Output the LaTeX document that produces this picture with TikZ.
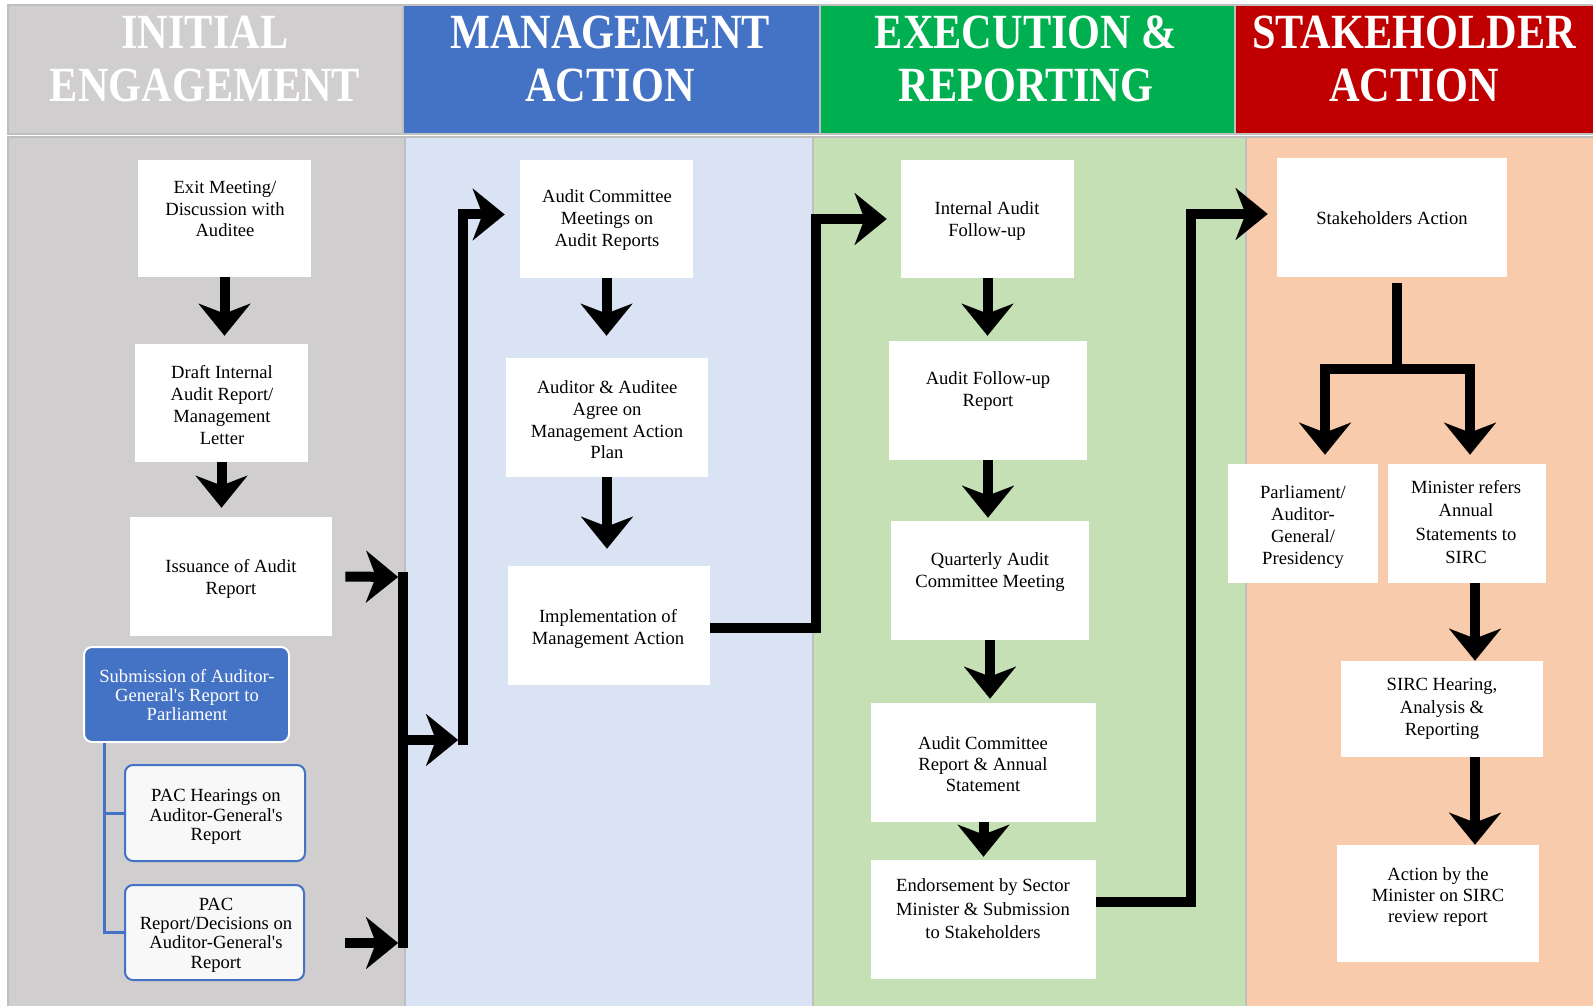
\documentclass[tikz,border=0pt]{standalone}
\usepackage{fontspec}
\setmainfont{Liberation Serif}
\newfontfamily\bodyfont{Liberation Serif}
\newfontfamily\hdfont[FakeStretch=0.86]{Liberation Serif}
\usetikzlibrary{arrows.meta,fit}
\definecolor{hgray}{HTML}{D0CECE}
\definecolor{hblue}{HTML}{4472C4}
\definecolor{hgreen}{HTML}{00B050}
\definecolor{hred}{HTML}{C00000}
\definecolor{bblue}{HTML}{DAE3F3}
\definecolor{bgreen}{HTML}{C5E0B4}
\definecolor{bpeach}{HTML}{F8CBAD}
\definecolor{edge}{HTML}{BFBFBF}
\definecolor{pacfill}{HTML}{F8F8F8}
\begin{document}
\begin{tikzpicture}[x=0.5pt,y=-0.5pt,
  cell/.style={draw=edge, line width=1pt},
  hdr/.style={align=center, inner sep=0pt, text=white, font=\hdfont\bfseries\fontsize{24.6}{26.4}\selectfont},
  box/.style={fill=white, inner sep=0pt},
  rbox/.style={fill=hblue, draw=white, line width=1pt, rounded corners=4pt, inner sep=0pt},
  pbox/.style={fill=pacfill, draw=hblue, line width=1pt, rounded corners=4pt, inner sep=0pt},
  txt/.style={align=center, inner sep=0pt, font=\bodyfont\fontsize{9.3}{#1}\selectfont},
  txt/.default=10.85pt,
  conn/.style={line width=5pt},
  arr/.style={line width=5pt, -{Stealth[length=16pt,width=26pt,inset=5pt,line width=0.01pt]}},
  bline/.style={draw=hblue, line width=1.5pt},
]
\useasboundingbox (0,0) rectangle (1593,1005);
\fill[white] (0,0) rectangle (1593,1005);
% header cells
\filldraw[cell, fill=hgray]  (8,5)    rectangle (403,134);
\filldraw[cell, fill=hblue]  (403,5)  rectangle (820,134);
\filldraw[cell, fill=hgreen] (820,5)  rectangle (1235,134);
\filldraw[cell, fill=hred]   (1235,5) rectangle (1597,134);
% body cells
\filldraw[cell, fill=hgray]  (8,137)    rectangle (405,1009);
\filldraw[cell, fill=bblue]  (405,137)  rectangle (813,1009);
\filldraw[cell, fill=bgreen] (813,137)  rectangle (1246,1009);
\filldraw[cell, fill=bpeach] (1246,137) rectangle (1597,1009);
% header texts
\node[hdr] (h1) at (205,59) {INITIAL\\ENGAGEMENT};
\node[hdr] (h2) at (610,59) {MANAGEMENT\\ACTION};
\node[hdr] (h3) at (1026,59) {EXECUTION \&\\REPORTING};
\node[hdr] (h4) at (1414,59) {STAKEHOLDER\\ACTION};

% ---- column 1 ----
\node[box, fit={(138,160) (311,277)}] (exit) {};
\node[txt] (exitT) at (225,209) {Exit Meeting/\\Discussion with\\Auditee};
\node[box, fit={(135,344) (308,462)}] (draft) {};
\node[txt] (draftT) at (222,405) {Draft Internal\\Audit Report/\\Management\\Letter};
\node[box, fit={(130,517) (332,636)}] (iss) {};
\node[txt] (issT) at (231,579) {Issuance of Audit\\Report};
\node[rbox, fit={(84,647) (289,742)}] (sub) {};
\node[txt=9.7pt, text=white] (subT) at (187,695) {Submission of Auditor-\\General's Report to\\Parliament};
\node[pbox, fit={(125,765) (305,861)}] (pach) {};
\node[txt=9.7pt] (pachT) at (216,817) {PAC Hearings on\\Auditor-General's\\Report};
\node[pbox, fit={(125,885) (304,980)}] (pacr) {};
\node[txt=9.7pt] (pacrT) at (216,935) {PAC\\Report/Decisions on\\Auditor-General's\\Report};

% ---- column 2 ----
\node[box, fit={(520,160) (693,278)}] (acm) {};
\node[txt] (acmT) at (607,220) {Audit Committee\\Meetings on\\Audit Reports};
\node[box, fit={(506,358) (708,477)}] (aud) {};
\node[txt] (audT) at (607,420) {Auditor \& Auditee\\Agree on\\Management Action\\Plan};
\node[box, fit={(508,566) (710,685)}] (impl) {};
\node[txt] (implT) at (608,629) {Implementation of\\Management Action};

% ---- column 3 ----
\node[box, fit={(901,160) (1074,278)}] (iaf) {};
\node[txt] (iafT) at (987,221) {Internal Audit\\Follow-up};
\node[box, fit={(889,341) (1087,460)}] (afr) {};
\node[txt] (afrT) at (988,391) {Audit Follow-up\\Report};
\node[box, fit={(891,521) (1089,640)}] (qac) {};
\node[txt] (qacT) at (990,572) {Quarterly Audit\\Committee Meeting};
\node[box, fit={(871,703) (1096,822)}] (acr) {};
\node[txt=10.6pt] (acrT) at (983,764) {Audit Committee\\Report \& Annual\\Statement};
\node[box, fit={(871,860) (1096,979)}] (endo) {};
\node[txt=11.7pt] (endoT) at (983,909) {Endorsement by Sector\\Minister \& Submission\\to Stakeholders};

% ---- column 4 ----
\node[box, fit={(1277,158) (1507,277)}] (sa) {};
\node[txt] (saT) at (1392,218) {Stakeholders Action};
\node[box, fit={(1228,464) (1378,583)}] (parl) {};
\node[txt] (parlT) at (1303,527) {Parliament/\\Auditor-\\General/\\Presidency};
\node[box, fit={(1388,464) (1546,583)}] (mref) {};
\node[txt=11.7pt] (mrefT) at (1466,522) {Minister refers\\Annual\\Statements to\\SIRC};
\node[box, fit={(1341,661) (1543,757)}] (sirc) {};
\node[txt=11.3pt] (sircT) at (1442,709) {SIRC Hearing,\\Analysis \&\\Reporting};
\node[box, fit={(1337,845) (1539,962)}] (act) {};
\node[txt=10.4pt] (actT) at (1438,897) {Action by the\\Minister on SIRC\\review report};

% ---- connectors column 1 ----
\draw[arr, shorten >=4pt] (exit.south) -- (exit.south |- draft.north);
\draw[arr, shorten >=4.5pt] (draft.south) -- (draft.south |- iss.north);
\coordinate (barT) at (403,572);
\coordinate (barB) at (403,948);
\draw[conn] (barT) -- (barB);
\coordinate (j1) at (398,577);
\draw[arr] ([xshift=6.5pt]iss.east) -- (j1);
\coordinate (s2) at (345,943);
\coordinate (j2) at (398,943);
\draw[arr] (s2) -- (j2);
\coordinate (bl) at ([xshift=10.5pt]sub.south west);
\draw[bline] (bl) |- (pach.west);
\draw[bline] (bl) |- (pacr.west);

% ---- to column 2 ----
\coordinate (j3) at (403,740);
\coordinate (v1t) at (458,740);
\draw[arr] (j3) -- (v1t);
\coordinate (v1) at (463,745);
\draw[arr, shorten >=7.5pt] (v1) |- ([yshift=2.25pt]acm.west);
\draw[arr, shorten >=11pt] (acm.south) -- (acm.south |- aud.north);
\draw[arr, shorten >=8.5pt] (aud.south) -- (aud.south |- impl.north);
\coordinate (k1) at (816,628);
\draw[arr, shorten >=7pt] (impl.east |- k1) -- (k1) |- (iaf.west);

% ---- column 3 ----
\draw[arr, shorten >=2.5pt] (iaf.south) -- (iaf.south |- afr.north);
\draw[arr, shorten >=1.5pt] (afr.south) -- (afr.south |- qac.north);
\draw[arr, shorten >=2pt] (qac.south) -- (qac.south |- acr.north);
\draw[arr, shorten >=1.5pt] (acr.south) -- (acr.south |- endo.north);
\coordinate (k2) at (1191,902);
\draw[arr, shorten >=4.5pt] (endo.east |- k2) -- (k2) |- ([yshift=1.75pt]sa.west);

% ---- column 4 ----
\coordinate (stem) at ([xshift=2.5pt,yshift=-3pt]sa.south);
\coordinate (brL) at (1325,369);
\coordinate (brR) at (1470,369);
\draw[conn] (stem) -- (stem |- brL);
\draw[arr, shorten >=4.5pt] (brR) -- (brL) -- (brL |- parl.north);
\draw[arr, shorten >=4.5pt] ([yshift=2.5pt]brR) -- (brR |- mref.north);
\coordinate (m1) at ([xshift=4pt]mref.south);
\draw[arr] (m1) -- (m1 |- sirc.north);
\draw[arr] (m1 |- sirc.south) -- (m1 |- act.north);
\end{tikzpicture}
\end{document}
